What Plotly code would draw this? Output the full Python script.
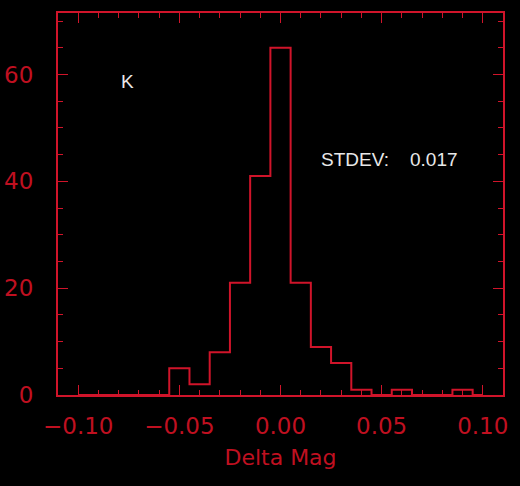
import plotly.graph_objects as go

# Histogram of Delta Mag (bin width 0.01, centred on multiples of 0.01)
bin_centers = [-0.10, -0.09, -0.08, -0.07, -0.06, -0.05, -0.04, -0.03, -0.02, -0.01,
               0.00, 0.01, 0.02, 0.03, 0.04, 0.05, 0.06, 0.07, 0.08, 0.09, 0.10]
counts = [0, 0, 0, 0, 0, 5, 2, 8, 21, 41, 65, 21, 9, 6, 1, 0, 1, 0, 0, 1, 0]

x_tickvals = [-0.10, -0.05, 0.00, 0.05, 0.10]
x_ticktext = ["\u22120.10", "\u22120.05", "0.00", "0.05", "0.10"]
y_tickvals = [0, 20, 40, 60]
y_ticktext = ["0", "20", "40", "60"]

band_label = "K"
stdev_label = "STDEV:"
stdev_value = "0.017"
x_title = "Delta Mag"

RED = "#d0142a"
TXT = "#c01020"

fig = go.Figure()
fig.add_trace(go.Scatter(
    x=bin_centers, y=counts, mode="lines",
    line=dict(color=RED, width=2, shape="hvh"),
    showlegend=False, hoverinfo="skip",
))

axis_common = dict(
    showgrid=False, zeroline=False, automargin=False,
    showline=True, linecolor=RED, linewidth=2, mirror="allticks",
    ticks="inside", tickcolor=RED, tickwidth=1,
    tickfont=dict(family="DejaVu Sans", size=23, color=TXT),
)

fig.update_xaxes(
    range=[-0.11, 0.11], tickvals=x_tickvals, ticktext=x_ticktext,
    ticklen=10, ticklabelstandoff=9,
    minor=dict(dtick=0.01, tick0=0, ticks="inside", ticklen=5, tickcolor=RED, tickwidth=1),
    title=dict(text=x_title, font=dict(family="DejaVu Sans", size=22, color=TXT), standoff=12),
    **axis_common,
)
fig.update_yaxes(
    range=[0, 71.5], tickvals=y_tickvals, ticktext=y_ticktext,
    ticklen=10, ticklabelstandoff=18,
    minor=dict(dtick=5, tick0=0, ticks="inside", ticklen=5, tickcolor=RED, tickwidth=1),
    **axis_common,
)

fig.add_annotation(x=-0.08, y=58.6, xref="x", yref="y", text=band_label, showarrow=False,
                   font=dict(family="Liberation Sans", size=19, color="#e8e8e8"),
                   xanchor="left", yanchor="middle")
fig.add_annotation(x=0.019, y=44, xref="x", yref="y", text=stdev_label, showarrow=False,
                   font=dict(family="Liberation Sans", size=19, color="#e8e8e8"),
                   xanchor="left", yanchor="middle")
fig.add_annotation(x=0.063, y=44, xref="x", yref="y", text=stdev_value, showarrow=False,
                   font=dict(family="Liberation Sans", size=19, color="#e8e8e8"),
                   xanchor="left", yanchor="middle")

fig.update_layout(
    width=520, height=486,
    margin=dict(l=58, r=17, t=13, b=91),
    paper_bgcolor="black", plot_bgcolor="black",
    showlegend=False,
)

fig.write_html("out.html")
